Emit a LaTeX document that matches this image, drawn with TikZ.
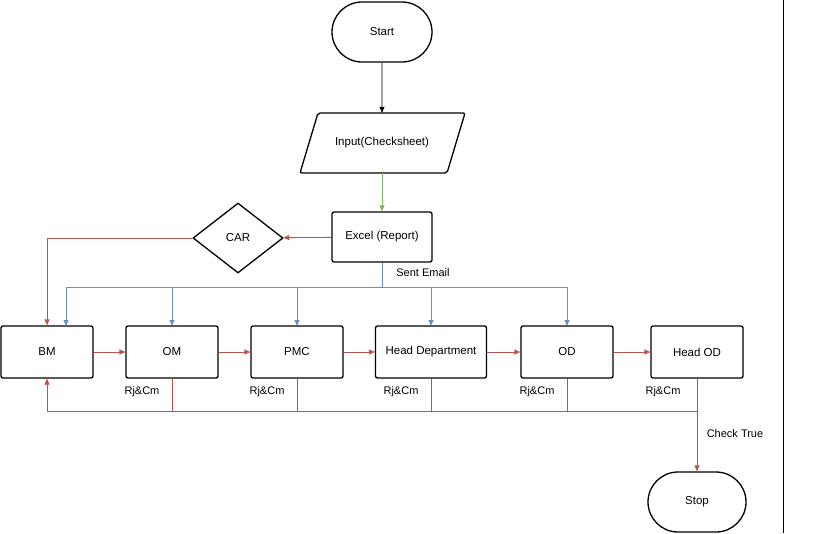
\documentclass[tikz,border=0pt]{standalone}
\usepackage{fontspec}
\setmainfont{Liberation Sans}
\usetikzlibrary{shapes.geometric,shapes.misc,arrows.meta}
\definecolor{rd}{HTML}{B85450}
\definecolor{bl}{HTML}{6C8EBF}
\definecolor{gr}{HTML}{82B366}
\begin{document}
\begin{tikzpicture}[x=1pt,y=-1pt,
  every node/.style={font=\fontsize{11.5}{13}\selectfont},
  box/.style={draw,line width=1.3pt,rounded corners=2pt,minimum height=52pt,inner sep=0pt},
  term/.style={draw,line width=1.3pt,rounded rectangle,rounded rectangle arc length=180,minimum width=100pt,minimum height=60pt,inner sep=0pt},
  arr/.style={-{Triangle[width=5pt,length=6pt]},line width=0.8pt},
  lbl/.style={font=\fontsize{11}{13}\selectfont}]
\useasboundingbox (0,0) rectangle (819,533);
\draw[line width=0.8pt] (783,0) -- (783,533);
\node[term] (start) at (382,32) {Start};
\node[minimum width=147pt,minimum height=60pt,inner sep=0pt] (in) at (382,143) {Input(Checksheet)};
\draw[line width=1.3pt,rounded corners=2pt] (318,113) -- (465,113) -- (447,173) -- (300,173) -- cycle;
\node[box,minimum width=100pt,minimum height=50pt] (xl) at (382,237) {Excel (Report)};
\node[draw,line width=1.3pt,diamond,minimum width=90pt,minimum height=70pt,inner sep=0pt,aspect=1.3] (car) at (238,238) {CAR};
\node[box,minimum width=92pt] (bm) at (47,352) {BM};
\node[box,minimum width=92pt] (om) at (172,352) {OM};
\node[box,minimum width=92pt] (pmc) at (297,352) {PMC};
\node[box,minimum width=111pt] (hd) at (431,352) {Head Department};
\node[box,minimum width=92pt] (od) at (567,352) {OD};
\node[box,minimum width=92pt] (hod) at (697,352) {Head OD};
\node[term,minimum width=98pt] (stop) at (697,502) {Stop};
\draw[arr] (start) -- (in);
\draw[arr,gr] (in) -- (xl);
\draw[arr,rd] (xl) -- (car);
\draw[arr,rd] (car.west) -| (bm.north);
\coordinate (se) at (382,287);
\draw[bl,line width=0.8pt] (xl.south) -- (se);
\draw[bl,line width=0.8pt] (66,287) -- (567,287);
\foreach \x/\n in {66/bm,172/om,297/pmc,431/hd,567/od}
  \draw[arr,bl] (\x,287) -- (\x,326);
\node[lbl] at (423,273) {Sent Email};
\draw[arr,rd] (bm) -- (om);
\draw[arr,rd] (om) -- (pmc);
\draw[arr,rd] (pmc) -- (hd);
\draw[arr,rd] (hd) -- (od);
\draw[arr,rd] (od) -- (hod);
\coordinate (fb) at (697,411);
\foreach \n in {om,pmc,hd,od}
  \draw[rd,line width=0.8pt] (\n.south) -- (\n.south |- fb);
\draw[arr,rd] (fb) -| (bm.south);
\draw[arr,rd] (hod.south) -- (stop.north);
\node[lbl] at (735,434) {Check True};
\foreach \x in {142,267,401,537,663}
  \node[lbl] at (\x,392) {Rj\&Cm};
\end{tikzpicture}
\end{document}
